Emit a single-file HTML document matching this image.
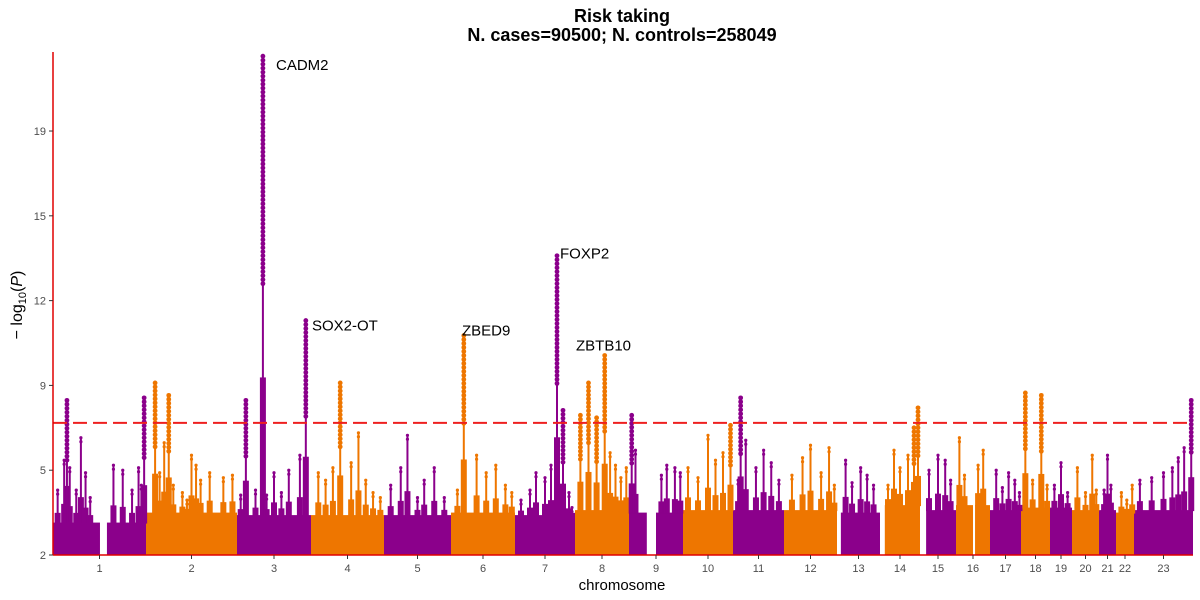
<!DOCTYPE html>
<html><head><meta charset="utf-8"><style>
body{margin:0;background:#fff;}
svg{display:block;font-family:"Liberation Sans","DejaVu Sans",sans-serif;}
</style></head><body>
<svg id="chart" width="1200" height="600" viewBox="0 0 1200 600">
<g id="marks"></g>
<g id="axes"></g>
<text x="622" y="22" text-anchor="middle" font-size="18" font-weight="bold">Risk taking</text>
<text x="622" y="41" text-anchor="middle" font-size="18" font-weight="bold">N. cases=90500; N. controls=258049</text>
<text x="622" y="590" text-anchor="middle" font-size="15">chromosome</text>
<text transform="translate(22,305) rotate(-90)" text-anchor="middle" font-size="16">− log<tspan font-size="11" dy="4">10</tspan><tspan dy="-4">(</tspan><tspan font-style="italic">P</tspan>)</text>
</svg>
<script>
const chrNames=["1","2","3","4","5","6","7","8","9","10","11","12","13","14","15","16","17","18","19","20","21","22","23"];
const chrLengths=[93,91,74,73,67,64,60,54,54,50,51,53,43,40,36,34,31,29,22,27,17,18,59];
const chrBase=[3.3,3.7,3.6,3.6,3.6,3.7,3.6,3.8,3.7,3.8,3.8,3.8,3.7,4.0,3.8,4.0,3.8,3.9,3.9,3.8,3.8,3.7,3.8];
const gapChr=[1,9,13,14,15,16];
const gapFrom=[0.505,0.33,0,0,0,0.5];
const gapTo=[0.58,0.5,0.09,0.12,0.17,0.56];
const spikeChr=[1,1,1,1,1,1,1,1,1,1,1,1,1,1,
2,2,2,2,2,2,2,2,2,2,2,2,2,
3,3,3,3,3,3,3,3,3,3,
4,4,4,4,4,4,4,4,4,
5,5,5,5,5,5,5,
6,6,6,6,6,6,6,
7,7,7,7,7,7,7,7,7,
8,8,8,8,8,8,8,8,
9,9,9,9,9,9,
10,10,10,10,10,10,
11,11,11,11,11,11,11,
12,12,12,12,12,12,
13,13,13,13,13,
14,14,14,14,14,14,
15,15,15,15,
16,16,16,16,
17,17,17,17,17,
18,18,18,18,
19,19,19,
20,20,20,20,
21,21,21,
22,22,22,
23,23,23,23,23,23,23];
const spikePos=[0.15,0.12,0.18,0.3,0.35,0.25,0.4,0.65,0.75,0.85,0.92,0.98,0.95,0.05,
0.1,0.25,0.2,0.15,0.4,0.5,0.55,0.6,0.7,0.85,0.95,0.3,0.45,
0.12,0.35,0.25,0.5,0.6,0.7,0.85,0.93,0.05,0.4,
0.1,0.2,0.3,0.4,0.55,0.65,0.75,0.85,0.95,
0.1,0.25,0.35,0.5,0.6,0.75,0.9,
0.2,0.1,0.4,0.55,0.7,0.85,0.95,
0.1,0.25,0.35,0.5,0.7,0.6,0.8,0.9,0.95,
0.1,0.25,0.4,0.55,0.65,0.75,0.85,0.95,
0.05,0.12,0.6,0.7,0.85,0.95,
0.1,0.3,0.5,0.65,0.8,0.95,
0.1,0.15,0.25,0.45,0.6,0.75,0.9,
0.15,0.35,0.5,0.7,0.85,0.95,
0.2,0.35,0.55,0.7,0.85,
0.2,0.35,0.5,0.7,0.85,0.95,
0.25,0.5,0.7,0.85,
0.1,0.25,0.65,0.8,
0.2,0.4,0.6,0.8,0.95,
0.15,0.4,0.7,0.9,
0.2,0.5,0.8,
0.2,0.5,0.75,0.9,
0.3,0.5,0.7,
0.3,0.6,0.9,
0.1,0.3,0.5,0.65,0.75,0.85,0.97];
const spikeTop=[8.2,5.8,5.5,6.7,5.3,4.6,4.3,5.6,5.4,4.6,5.5,8.3,4.8,4.6,
8.9,8.4,6.5,5.3,4.5,6.0,5.6,5.0,5.3,5.1,5.2,4.8,4.2,
8.2,22.0,4.6,5.3,4.5,5.4,6.0,11.4,4.4,4.4,
5.3,5.0,5.5,8.9,5.7,6.9,5.0,4.5,4.3,
4.8,5.5,6.8,4.3,5.0,5.5,4.3,
10.8,4.6,6.0,5.3,5.6,4.8,4.5,
4.2,4.6,5.3,5.1,14.0,5.6,7.8,4.5,3.9,
7.6,8.9,7.5,10.0,6.1,5.6,5.1,5.5,
7.6,6.2,5.2,5.6,5.5,5.3,
5.5,5.1,6.8,5.8,6.1,7.2,
5.0,8.3,6.6,5.5,6.2,5.7,5.0,
5.2,5.9,6.4,5.3,6.3,4.8,
5.8,4.9,5.5,5.2,4.8,
4.8,6.2,5.5,6.0,7.1,7.9,
5.4,6.0,5.8,5.0,
6.7,5.2,5.6,6.2,
5.4,4.7,5.3,5.0,4.5,
8.5,5.0,8.4,4.8,
4.8,5.7,4.5,
5.5,4.5,6.0,4.6,
4.6,6.0,4.8,
4.5,4.2,4.8,
5.0,5.1,5.3,5.5,5.9,6.3,8.2];
const yTickVals=[2,5.4,8.8,12.2,15.6,19];
const yTickLabels=["2","5","9","12","15","19"];
const annGene=["CADM2","SOX2-OT","ZBED9","FOXP2","ZBTB10"];
const annValue=[22.0,11.4,10.8,14.0,10.0];
const threshold=7.3;

const NS="http://www.w3.org/2000/svg";
const X0=53,X1=1193,Y0=555;
const total=chrLengths.reduce((a,b)=>a+b,0);
const starts=[];let acc=0;chrLengths.forEach(l=>{starts.push(acc);acc+=l;});
function xPos(c,f){return X0+(starts[c-1]+f*chrLengths[c-1])/total*(X1-X0);}
function yPos(v){return Y0-(v-2)*24.94;}
const cols=["#8B008B","#EE7600"];
const marks=document.getElementById('marks');
const axes=document.getElementById('axes');
function mk(tag,attrs,parent){const e=document.createElementNS(NS,tag);for(const k in attrs)e.setAttribute(k,attrs[k]);parent.appendChild(e);return e;}

chrLengths.forEach((l,i)=>{
  const c=i+1,col=cols[i%2];
  let segs=[[0,1]];
  gapChr.forEach((g,j)=>{if(g===c){const n=[];segs.forEach(s=>{if(gapFrom[j]>s[0])n.push([s[0],gapFrom[j]]);if(gapTo[j]<s[1])n.push([gapTo[j],s[1]]);});segs=n;}});
  segs.forEach(s=>{
    const x1=xPos(c,s[0]),x2=xPos(c,s[1]);
    const r=mk('rect',{x:x1,y:yPos(chrBase[i]),width:Math.max(0,x2-x1),height:Y0-yPos(chrBase[i]),fill:col},marks);
    
    
  });
});

spikeChr.forEach((c,i)=>{
  const col=cols[(c-1)%2];
  const x=xPos(c,spikePos[i]);
  const base=chrBase[c-1],top=spikeTop[i];
  const g=mk('g',{},marks);
  
  
  const sh=base+(top-base)*0.3;
  mk('rect',{x:x-3,y:yPos(sh),width:6,height:yPos(base)-yPos(sh)+1,fill:col},g);
  mk('rect',{x:x-1,y:yPos(top),width:2,height:yPos(base)-yPos(top),fill:col},g);
  const big=top>7;
  const r=big?2.4:1.6;
  const lo=big?Math.max(base,top-(top-base)*0.5):top-0.25;
  for(let v=top;v>=lo;v-=0.16){mk('circle',{cx:x,cy:yPos(v),r:r,fill:col},g);}
});

const th=mk('line',{x1:X0,x2:X1,y1:yPos(threshold),y2:yPos(threshold),stroke:"#EE2020","stroke-width":2,"stroke-dasharray":"14,6"},axes);



const ya=mk('line',{x1:X0,x2:X0,y1:52,y2:Y0,stroke:"#E00000","stroke-width":1.5},axes);


const xa=mk('line',{x1:X0,x2:X1,y1:Y0,y2:Y0,stroke:"#E00000","stroke-width":1.5},axes);



yTickVals.forEach((v,i)=>{
  const t=mk('line',{x1:X0-4,x2:X0,y1:yPos(v),y2:yPos(v),stroke:"#333","stroke-width":1},axes);
  
  
  const tx=mk('text',{x:X0-7,y:yPos(v)+4,"text-anchor":"end","font-size":11,fill:"#4d4d4d"},axes);
  tx.textContent=yTickLabels[i];
  
  
});
chrNames.forEach((n,i)=>{
  const x=xPos(i+1,0.5);
  const t=mk('line',{x1:x,x2:x,y1:Y0,y2:Y0+4,stroke:"#333","stroke-width":1},axes);
  
  
  const tx=mk('text',{x:x,y:572,"text-anchor":"middle","font-size":11,fill:"#4d4d4d"},axes);
  tx.textContent=n;
  
  
});

const annX=[276,312,462,560,576];
const annDy=[14,10,0,3,-5];
annGene.forEach((g,i)=>{
  const tx=mk('text',{x:annX[i],y:yPos(annValue[i])+annDy[i],"font-size":15,fill:"#000"},axes);
  tx.textContent=g;
  
  
});
</script>
</body></html>
